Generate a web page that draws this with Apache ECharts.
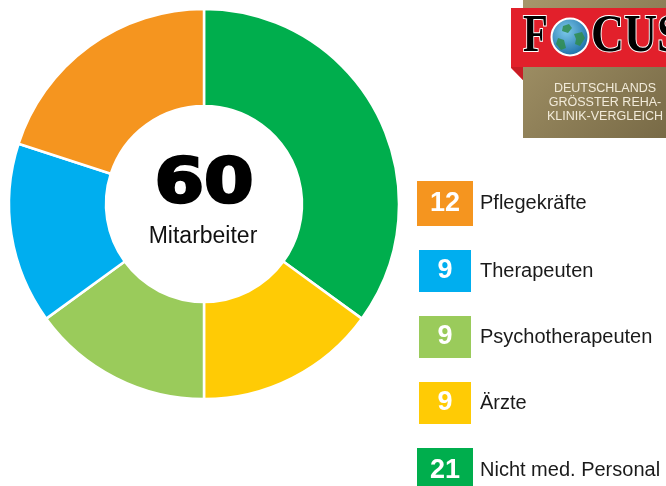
<!DOCTYPE html>
<html>
<head>
<meta charset="utf-8">
<script src="https://cdn.jsdelivr.net/npm/echarts@6/dist/echarts.min.js"></script>
<style>
html,body{margin:0;padding:0;background:#fff;}
#chart{width:666px;height:486px;}
</style>
</head>
<body>
<div id="chart"></div>
<script>
// Data (pie order, clockwise from top)
const categories = ['Nicht med. Personal', 'Ärzte', 'Psychotherapeuten', 'Therapeuten', 'Pflegekräfte'];
const values = [21, 9, 9, 9, 12];
const colors = ['#00ae4d', '#ffcb05', '#9acb5b', '#00aeef', '#f5951f'];
const legendOrder = ['Pflegekräfte', 'Therapeuten', 'Psychotherapeuten', 'Ärzte', 'Nicht med. Personal'];
const centerLabel = 'Mitarbeiter';
const logoLines = ['DEUTSCHLANDS', 'GRÖSSTER REHA-', 'KLINIK-VERGLEICH'];

const total = values.reduce((a, b) => a + b, 0);

const rich = {
  n: { fontFamily: 'Liberation Sans', fontSize: 20, color: '#1a1a1a', padding: [0, 0, 0, 7], lineHeight: 45 },
  sp: { width: 2, height: 42 }
};
categories.forEach((c, i) => {
  const wide = String(values[i]).length > 1;
  rich['b' + i] = {
    backgroundColor: colors[i],
    color: '#ffffff',
    fontFamily: 'Liberation Sans',
    fontWeight: 'bold',
    fontSize: 27,
    align: 'center',
    verticalAlign: 'middle',
    width: wide ? 56 : 52,
    height: wide ? 45 : 42,
    lineHeight: wide ? 45 : 42
  };
});

const chart = echarts.init(document.getElementById('chart'), null, { renderer: 'canvas' });

const globeLand = [
  [[563, 26], [569, 24], [572, 28], [568, 33], [562, 31]],
  [[574, 34], [582, 32], [585, 38], [580, 46], [575, 44], [576, 39]],
  [[558, 38], [564, 40], [566, 48], [561, 50], [556, 44]]
];

chart.setOption({
  animation: false,
  legend: {
    orient: 'vertical',
    left: 412,
    top: 181,
    height: 320,
    padding: 0,
    itemGap: 24,
    itemWidth: 0,
    itemHeight: 0,
    icon: 'none',
    selectedMode: false,
    data: legendOrder,
    formatter: function (name) {
      const i = categories.indexOf(name);
      const wide = String(values[i]).length > 1;
      return wide ? '{b' + i + '|' + values[i] + '}{n|' + name + '}'
                  : '{sp|}{b' + i + '|' + values[i] + '}{sp|}{n|' + name + '}';
    },
    textStyle: { rich: rich }
  },
  series: [{
    type: 'pie',
    center: [204, 204],
    radius: [98, 195],
    startAngle: 90,
    clockwise: true,
    avoidLabelOverlap: false,
    label: { show: false },
    labelLine: { show: false },
    emphasis: { disabled: true },
    itemStyle: { borderColor: '#fff', borderWidth: 2.5 },
    data: categories.map((c, i) => ({ name: c, value: values[i], itemStyle: { color: colors[i] } }))
  }],
  graphic: [
    {
      type: 'text', x: 204, y: 186, scaleX: 1.15, z: 10,
      style: { text: String(total), fill: '#000', stroke: '#000', lineWidth: 2.5, fontFamily: 'DejaVu Sans', fontWeight: 'bold', fontSize: 62, textAlign: 'center', textVerticalAlign: 'middle' }
    },
    {
      type: 'text', x: 203, y: 237, z: 10,
      style: { text: centerLabel, fill: '#111', fontFamily: 'Liberation Sans', fontSize: 23, textAlign: 'center', textVerticalAlign: 'middle' }
    },
    // Logo
    {
      type: 'rect', shape: { x: 523, y: 0, width: 143, height: 138 },
      style: { fill: new echarts.graphic.LinearGradient(0, 0, 1, 1, [{ offset: 0, color: '#a7976b' }, { offset: 1, color: '#786a46' }]) }
    },
    {
      type: 'polygon', shape: { points: [[511, 8], [666, 8], [666, 67], [523, 67], [523, 80], [511, 68]] },
      style: { fill: '#e2202b' }
    },
    {
      type: 'polygon', shape: { points: [[511, 67], [523, 67], [523, 80]] },
      style: { fill: '#c81c25' }
    },
    {
      type: 'text', x: 523, y: 38, scaleX: 0.78,
      style: { text: 'F', fontFamily: 'Liberation Serif', fontWeight: 'bold', fontSize: 52, fill: '#000', stroke: '#fff', lineWidth: 2, textAlign: 'left', textVerticalAlign: 'middle' }
    },
    {
      type: 'circle', shape: { cx: 570, cy: 37, r: 18.5 },
      style: { fill: new echarts.graphic.RadialGradient(0.4, 0.35, 0.7, [{ offset: 0, color: '#7cc8ea' }, { offset: 1, color: '#1669a3' }]), stroke: '#fff', lineWidth: 2 }
    },
    ...globeLand.map(p => ({ type: 'polygon', shape: { points: p }, style: { fill: '#2f8c4e', opacity: 0.85 } })),
    {
      type: 'text', x: 591, y: 38, scaleX: 0.88,
      style: { text: 'CUS', fontFamily: 'Liberation Serif', fontWeight: 'bold', fontSize: 52, fill: '#000', stroke: '#fff', lineWidth: 2, textAlign: 'left', textVerticalAlign: 'middle' }
    },
    ...logoLines.map((t, i) => ({
      type: 'text', x: 605, y: 89 + i * 14,
      style: { text: t, fontFamily: 'Liberation Sans', fontSize: 12.5, fill: '#f2ebda', textAlign: 'center', textVerticalAlign: 'middle' }
    }))
  ]
});
</script>
</body>
</html>
